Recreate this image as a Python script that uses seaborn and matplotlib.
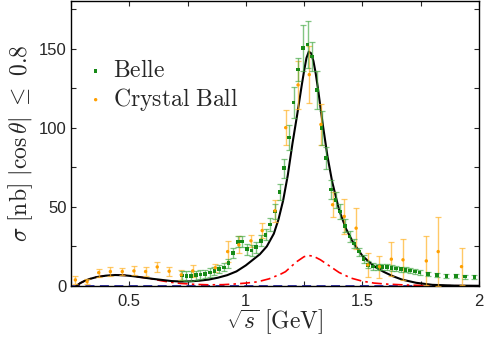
import numpy as np
import pandas as pd
import matplotlib
matplotlib.use("Agg")
import matplotlib.pyplot as plt
from matplotlib.ticker import MultipleLocator, FuncFormatter
import seaborn as sns

# ---------------- data ----------------
belle_x = [0.725, 0.745, 0.765, 0.785, 0.805, 0.825, 0.845, 0.865, 0.885, 0.905,
           0.925, 0.945, 0.965, 0.985, 1.005, 1.025, 1.045, 1.065, 1.085, 1.105,
           1.125, 1.145, 1.165, 1.185, 1.205, 1.225, 1.245, 1.265, 1.285, 1.305,
           1.325, 1.345, 1.365, 1.385, 1.405, 1.425, 1.445, 1.465, 1.485, 1.505,
           1.525, 1.545, 1.565, 1.585, 1.605, 1.625, 1.645, 1.665, 1.685, 1.705,
           1.725, 1.745, 1.78, 1.82, 1.86, 1.90, 1.94, 1.98]
belle_y = [6.6, 6.2, 6.2, 6.8, 7.3, 7.7, 8.5, 9.6, 10.8, 11.7,
           14.3, 20.7, 27.8, 28.0, 23.2, 22.3, 24.5, 28.5, 32.3, 38.8,
           47.0, 59.5, 74.5, 93.7, 115.8, 136.7, 150.4, 152.6, 145.0, 123.6,
           99.8, 81.0, 61.0, 54.4, 47.0, 38.0, 31.2, 26.8, 21.7, 16.9,
           13.3, 12.2, 11.8, 11.8, 11.8, 11.4, 11.0, 10.5, 10.1, 9.7,
           9.1, 8.4, 7.6, 6.7, 6.3, 6.1, 5.9, 5.5]
belle_err = [3.0, 3.0, 3.0, 2.8, 2.8, 2.6, 2.6, 2.5, 2.5, 2.5,
             3.0, 3.2, 3.5, 3.5, 3.5, 3.3, 3.5, 3.5, 3.5, 4.0,
             4.5, 5.0, 6.0, 8.0, 10.0, 7.5, 14.6, 14.7, 9.0, 12.0,
             11.0, 7.0, 6.0, 5.0, 4.5, 4.0, 3.5, 3.0, 2.5, 2.5,
             2.2, 2.0, 2.0, 2.0, 1.8, 1.8, 1.7, 1.7, 1.6, 1.6,
             1.5, 1.5, 1.3, 1.3, 1.2, 1.2, 1.2, 1.2]

cb_x = [0.269, 0.319, 0.369, 0.419, 0.470, 0.520, 0.570, 0.620, 0.671, 0.723,
        0.772, 0.869, 0.922, 0.970, 1.022, 1.070, 1.125, 1.171, 1.224, 1.272,
        1.322, 1.372, 1.422, 1.473, 1.523, 1.573, 1.624, 1.674, 1.774, 1.825,
        1.925]
cb_y = [3.8, 2.7, 8.4, 9.1, 9.1, 9.5, 9.1, 12.0, 9.3, 7.0,
        9.5, 11.5, 21.7, 26.0, 28.5, 35.0, 47.5, 100.0, 127.0, 133.5,
        102.0, 51.3, 43.9, 36.5, 13.3, 12.2, 16.9, 16.5, 15.8, 21.7,
        12.2]
cb_err = [2.5, 1.5, 2.5, 2.8, 2.3, 2.8, 2.8, 3.3, 2.8, 3.3,
          4.0, 2.5, 6.5, 5.3, 3.8, 4.7, 6.9, 11.0, 15.3, 18.0,
          13.2, 7.9, 11.0, 13.0, 7.4, 6.9, 10.8, 12.9, 15.5, 22.0,
          11.6]

fit_x = [0.273, 0.29, 0.31, 0.33, 0.36, 0.40, 0.44, 0.48, 0.52, 0.56,
         0.60, 0.64, 0.68, 0.72, 0.76, 0.80, 0.84, 0.88, 0.92, 0.96,
         1.00, 1.03, 1.06, 1.09, 1.12, 1.14, 1.16, 1.18, 1.20, 1.22,
         1.24, 1.25, 1.26, 1.27, 1.28, 1.29, 1.30, 1.31, 1.33, 1.35,
         1.37, 1.40, 1.43, 1.46, 1.50, 1.53, 1.56, 1.59, 1.63, 1.67,
         1.73, 1.80, 1.90, 2.00]
fit_y = [0.0, 1.8, 3.3, 4.4, 5.6, 6.5, 6.9, 6.7, 6.1, 5.3,
         4.5, 3.8, 3.1, 2.8, 2.9, 3.3, 4.0, 5.2, 6.8, 9.2,
         13.0, 16.5, 20.0, 25.0, 33.0, 42.0, 54.0, 70.0, 90.0, 108.0,
         127.0, 136.0, 144.0, 148.0, 147.0, 142.0, 134.0, 124.0, 102.0, 82.0,
         66.0, 48.0, 36.0, 27.5, 19.0, 15.0, 11.5, 9.0, 6.2, 4.0,
         2.0, 0.7, 0.2, 0.1]

comp_x = [0.273, 0.29, 0.31, 0.33, 0.36, 0.40, 0.44, 0.48, 0.52, 0.56,
          0.60, 0.64, 0.68, 0.72, 0.78, 0.84, 0.90, 0.95, 1.00, 1.05,
          1.10, 1.15, 1.17, 1.20, 1.22, 1.25, 1.27, 1.29, 1.32, 1.35,
          1.40, 1.45, 1.50, 1.55, 1.60, 1.70, 1.80, 2.00]
comp_y = [0.0, 1.8, 3.3, 4.4, 5.6, 6.5, 6.9, 6.7, 6.1, 5.3,
          4.4, 3.2, 2.3, 1.6, 1.0, 0.7, 0.8, 1.2, 1.8, 2.6,
          4.5, 7.5, 9.0, 13.0, 15.5, 18.5, 19.2, 18.8, 16.5, 13.5,
          8.5, 5.0, 3.0, 1.8, 1.2, 0.5, 0.2, 0.05]

zero_x = [0.25, 2.0]
zero_y = [0.0, 0.0]

# ---------------- style ----------------
sns.set_style("ticks")
plt.rcParams["font.family"] = ["Liberation Sans", "DejaVu Sans"]
plt.rcParams["mathtext.fontset"] = "cm"

fig, ax = plt.subplots(figsize=(4.86, 3.40), dpi=100)
fig.subplots_adjust(left=0.146, right=0.9856, top=0.997, bottom=0.159)

# zero line, component, total fit
sns.lineplot(x=zero_x, y=zero_y, ax=ax, color="#2b2bb0", lw=1.3,
             linestyle=(0, (5, 3)), estimator=None, sort=False, zorder=2)
sns.lineplot(x=comp_x, y=comp_y, ax=ax, color="red", lw=1.2,
             linestyle=(0, (6, 2.5, 1.5, 2.5)), estimator=None, sort=False, zorder=2)
sns.lineplot(x=fit_x, y=fit_y, ax=ax, color="black", lw=1.5,
             estimator=None, sort=False, zorder=3)

# error bars
ax.errorbar(cb_x, cb_y, yerr=cb_err, fmt="none", ecolor=(1.0, 0.7, 0.15, 0.7),
            elinewidth=1.0, capsize=2, capthick=0.9, zorder=4)
ax.errorbar(belle_x, belle_y, yerr=belle_err, fmt="none", ecolor=(0.25, 0.65, 0.25, 0.65),
            elinewidth=1.0, capsize=2, capthick=0.9, zorder=5)

# markers
sns.scatterplot(x=belle_x, y=belle_y, ax=ax, marker="s", s=7, color="#178a17",
                edgecolor="none", label=r"$\mathrm{Belle}$", zorder=6)
sns.scatterplot(x=cb_x, y=cb_y, ax=ax, marker="o", s=6, color="#ff9f00",
                edgecolor="none", label=r"$\mathrm{Crystal\ Ball}$", zorder=6)

ax.set_xlim(0.25, 2.0)
ax.set_ylim(0, 180)

ax.xaxis.set_major_locator(MultipleLocator(0.5))
ax.xaxis.set_minor_locator(MultipleLocator(0.25))
ax.yaxis.set_major_locator(MultipleLocator(50))
ax.yaxis.set_minor_locator(MultipleLocator(25))
ax.xaxis.set_major_formatter(FuncFormatter(lambda v, p: "%g" % v))
ax.yaxis.set_major_formatter(FuncFormatter(lambda v, p: "%g" % v))
ax.tick_params(which="both", direction="in", top=True, right=True,
               length=3.5, width=0.8, labelsize=12)
ax.tick_params(axis="x", which="major", pad=6)
ax.tick_params(axis="y", which="major", pad=3)
for s in ax.spines.values():
    s.set_linewidth(1.0)
    s.set_color("black")

ax.set_xlabel(r"$\sqrt{s}\ [\mathrm{GeV}]$", fontsize=17, labelpad=-1)
ax.set_ylabel(r"$\sigma\ [\mathrm{nb}]\ |\cos\theta|\ \leq\ 0.8$", fontsize=17, labelpad=3)

leg = ax.legend(loc="upper left", bbox_to_anchor=(0.02, 0.825), frameon=False,
                fontsize=17, handlelength=0.6, handletextpad=0.45,
                labelspacing=0.15, borderaxespad=0.0, markerscale=1.0)

fig.savefig("out.png", dpi=100)
